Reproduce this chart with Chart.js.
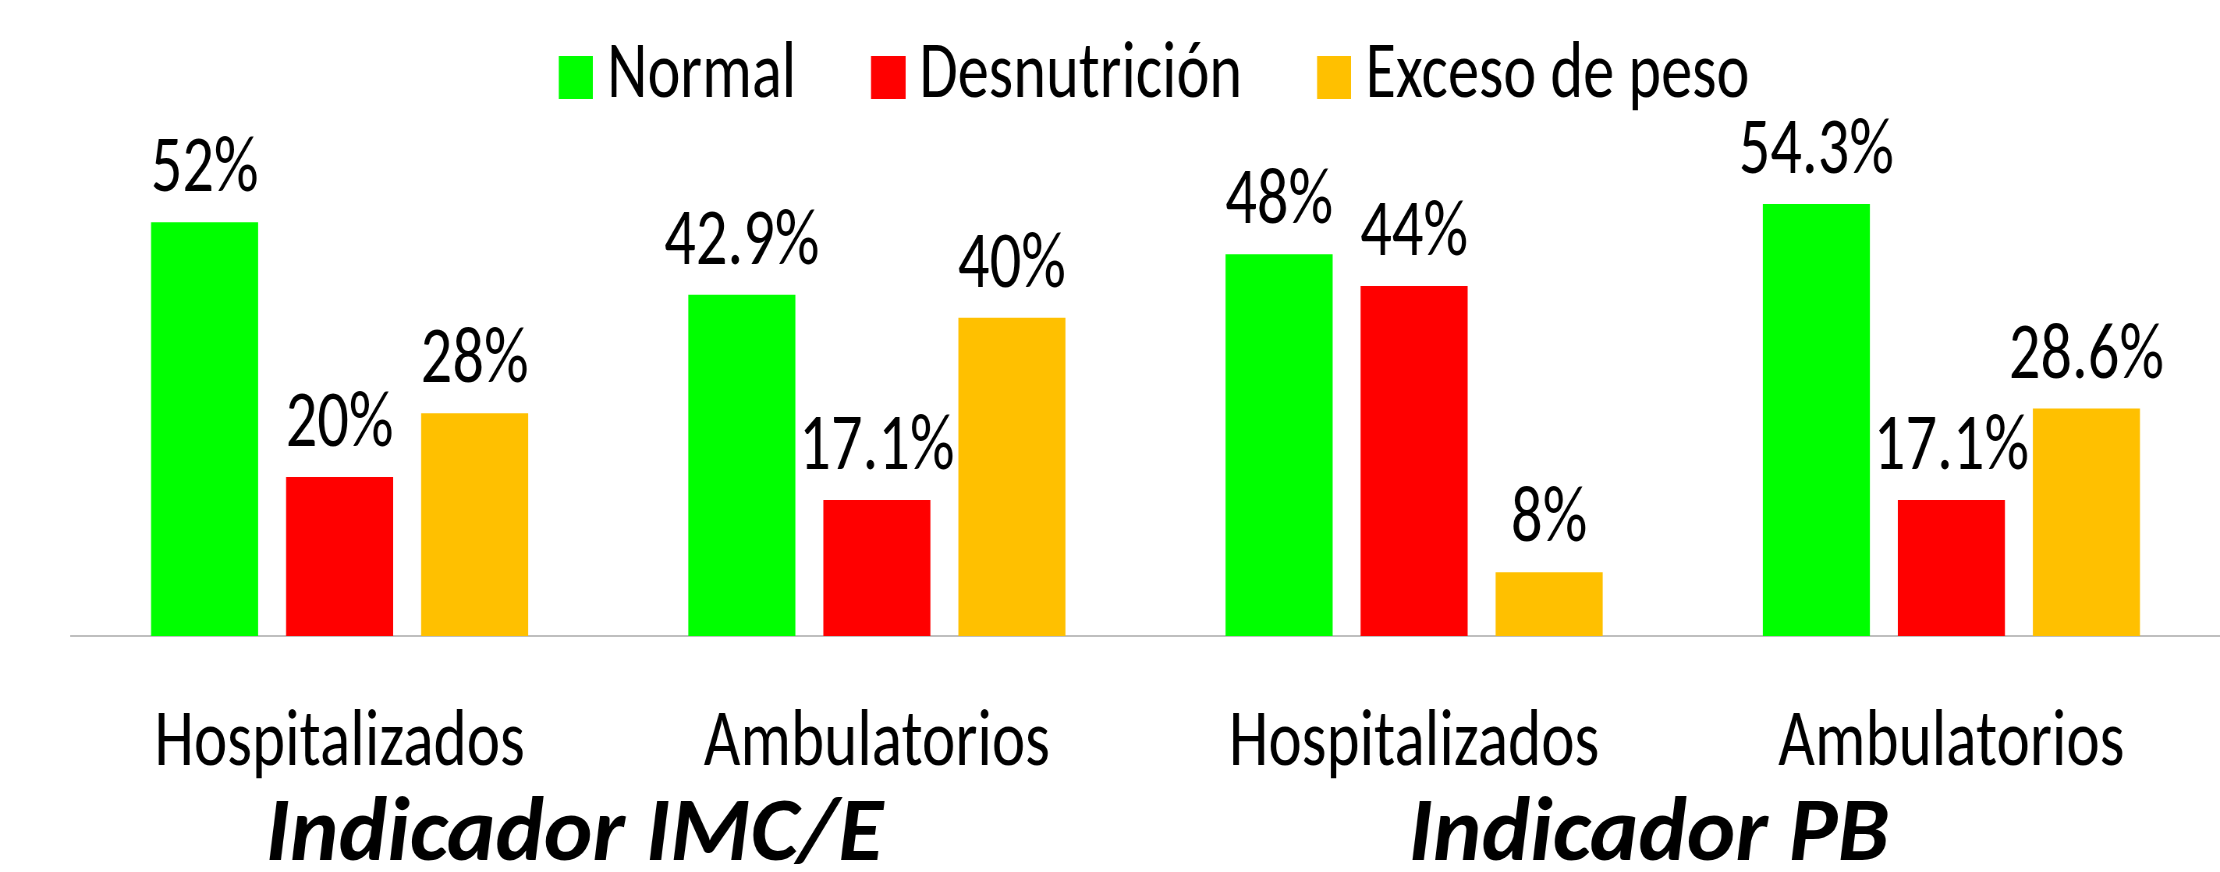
<!DOCTYPE html>
<html>
<head>
<meta charset="utf-8">
<script src="https://cdn.jsdelivr.net/npm/chart.js@4.4.1/dist/chart.umd.min.js"></script>
<style>
  html, body { margin: 0; padding: 0; background: #fff; overflow: hidden; }
  /* the original chart is squeezed sideways, so draw it wider and compress */
  #chart { transform: scaleX(0.78004); transform-origin: 0 0; }
</style>
</head>
<body>
<canvas id="chart" width="2846" height="872"></canvas>
<script>
const categories = ["Hospitalizados", "Ambulatorios", "Hospitalizados", "Ambulatorios"];
const groups = ["Indicador IMC/E", "Indicador PB"];
const seriesNames = ["Normal", "Desnutrición", "Exceso de peso"];
const normal = [52, 42.9, 48, 54.3];
const desnutricion = [20, 17.1, 44, 17.1];
const exceso = [28, 40, 8, 28.6];
const colors = ["#00ff00", "#ff0000", "#ffc000"];

const SQUEEZE = 0.78004;
const FONT = 'Carlito, Calibri, "Open Sans", sans-serif';

// legend swatch with empty space on its left, so the square sits closer to its text
function legendSwatch(color) {
  const c = document.createElement("canvas");
  c.width = 88;
  c.height = 43;
  const g = c.getContext("2d");
  g.fillStyle = color;
  g.fillRect(44, 0, 44, 43);
  return c;
}

// percent labels above every bar
const valueLabels = {
  id: "valueLabels",
  afterDatasetsDraw(chart) {
    const ctx = chart.ctx;
    ctx.save();
    ctx.font = `80px ${FONT}`;
    ctx.fillStyle = "#000";
    ctx.textAlign = "center";
    ctx.textBaseline = "alphabetic";
    chart.data.datasets.forEach((ds, i) => {
      chart.getDatasetMeta(i).data.forEach((bar, j) => {
        ctx.fillText(`${ds.data[j]}%`, bar.x, bar.y - 31);
      });
    });
    ctx.restore();
  },
};

// "Indicador ..." titles under each pair of categories, not squeezed
const groupLabels = {
  id: "groupLabels",
  afterDraw(chart) {
    const ctx = chart.ctx;
    const x = chart.scales.x;
    ctx.save();
    ctx.font = `italic bold 92px ${FONT}`;
    ctx.fillStyle = "#000";
    ctx.textAlign = "center";
    ctx.textBaseline = "alphabetic";
    groups.forEach((g, i) => {
      const cx = (x.getPixelForValue(2 * i) + x.getPixelForValue(2 * i + 1)) / 2 - 34 / SQUEEZE;
      ctx.save();
      ctx.translate(cx, 860);
      ctx.scale(1 / SQUEEZE, 1);
      ctx.fillText(g, 0, 0);
      ctx.restore();
    });
    ctx.restore();
  },
};

const series = [normal, desnutricion, exceso];

new Chart(document.getElementById("chart"), {
  type: "bar",
  data: {
    labels: categories,
    datasets: series.map((values, i) => ({
      label: seriesNames[i],
      data: values,
      backgroundColor: colors[i],
      borderWidth: 0,
      categoryPercentage: 0.754,
      barPercentage: 0.793,
    })),
  },
  options: {
    responsive: false,
    animation: false,
    devicePixelRatio: 1,
    layout: { padding: { left: 91, right: 0, top: -37, bottom: 0 } },
    plugins: {
      tooltip: { enabled: false },
      legend: {
        position: "top",
        labels: {
          color: "#000",
          font: { family: FONT, size: 80 },
          usePointStyle: true,
          pointStyleWidth: 44,
          boxHeight: 43,
          padding: 74,
          generateLabels: (chart) =>
            Chart.defaults.plugins.legend.labels
              .generateLabels(chart)
              .map((item, i) => ({ ...item, pointStyle: legendSwatch(colors[i]) })),
        },
      },
    },
    scales: {
      x: {
        grid: { display: false },
        border: { display: true, color: "#bfbfbf", width: 2 },
        ticks: {
          color: "#000",
          font: { family: FONT, size: 81 },
          maxRotation: 0,
          autoSkip: false,
          padding: 52,
        },
        afterFit: (scale) => {
          scale.height = 236;
        },
      },
      y: {
        display: false,
        min: 0,
        max: 63.99,
      },
    },
  },
  plugins: [valueLabels, groupLabels],
});
</script>
</body>
</html>
